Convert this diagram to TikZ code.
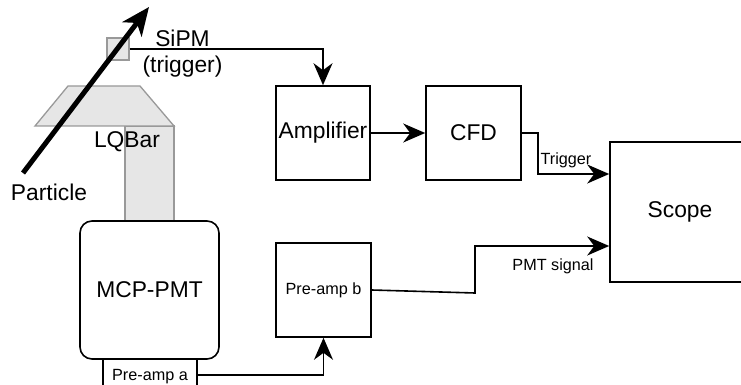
\documentclass[tikz,border=0pt]{standalone}
\usepackage{fontspec}
\setmainfont{Liberation Sans}
\usetikzlibrary{arrows.meta,calc}
\definecolor{partfill}{HTML}{E6E6E6}
\definecolor{partedge}{HTML}{999999}
\newcommand{\bigtxt}{\fontsize{22.8}{26}\selectfont}
\newcommand{\smalltxt}{\fontsize{16.2}{18}\selectfont}
\begin{document}
\begin{tikzpicture}[x=1pt,y=-1pt,
  block/.style={draw,line width=1.6pt,rectangle,inner sep=0pt,
    minimum width=94pt,minimum height=94pt,font=\bigtxt},
  part/.style={draw=partedge,fill=partfill,line width=1.3pt},
  wire/.style={line width=1.6pt,-{Stealth[length=22pt,width=19pt,inset=7pt]}},
  lbl/.style={inner sep=0pt,anchor=base},
]
\clip (0,0) rectangle (741,385);

% quartz bar with its prism head
\path[part] (125,126) rectangle (174,221);
\path[part] (68,86) -- (140,86) -- (174,126) -- (35,126) -- cycle;
\node[part,rectangle,inner sep=0pt,minimum size=22pt] (sipm) at (118,49) {};

% electronics chain
\node[block] (amp) at (323,133) {Amplifier};
\node[block,minimum width=95pt] (cfd) at (473.5,133) {CFD};
\node[block,minimum size=140pt] (scope) at (680,212) {Scope};
\node[block,minimum width=95pt,font=\smalltxt] (preb) at (323.5,290) {Pre-amp b};
\node[block,rounded corners=12pt,minimum width=139pt,minimum height=138pt]
  (mcp) at (149.5,290) {MCP-PMT};
\node[block,minimum width=94pt,minimum height=36pt,font=\smalltxt]
  (prea) at (150,377) {Pre-amp a};

% labels
\node[lbl,anchor=north,align=center,font=\fontsize{22.8}{26}\selectfont]
  (sipmlbl) at (182.5,30) {SiPM\\(trigger)};
\node[lbl,font=\bigtxt] (lqbar) at (127,147) {LQBar};
\node[lbl,font=\bigtxt] (particle) at (49,200) {Particle};
\node[lbl,font=\smalltxt] (triglbl) at (566,164) {Trigger};
\node[lbl,font=\smalltxt] (pmtlbl) at (553,270) {PMT signal};

% connections
\coordinate (tin) at ($(scope.west)+(0,-38)$);
\coordinate (pin) at ($(scope.west)+(0,34)$);
\coordinate (trigbend) at (538,133);
\coordinate (pmtbend) at (475,293);
\draw[wire] (sipm.east) -| (amp.north);
\draw[wire] (amp.east) -- (cfd.west);
\draw[wire] (cfd.east) -- (trigbend) |- (tin);
\draw[wire] (preb.east) -- (pmtbend) |- (pin);
\draw[wire] ([yshift=2pt]prea.east) -| (preb.south);

% particle track
\coordinate (trackstart) at (23,173);
\coordinate (trackend) at (149,7);
\draw[line width=5pt,-{Stealth[length=28pt,width=24pt,inset=8pt]}]
  (trackstart) -- (trackend);
\end{tikzpicture}
\end{document}
